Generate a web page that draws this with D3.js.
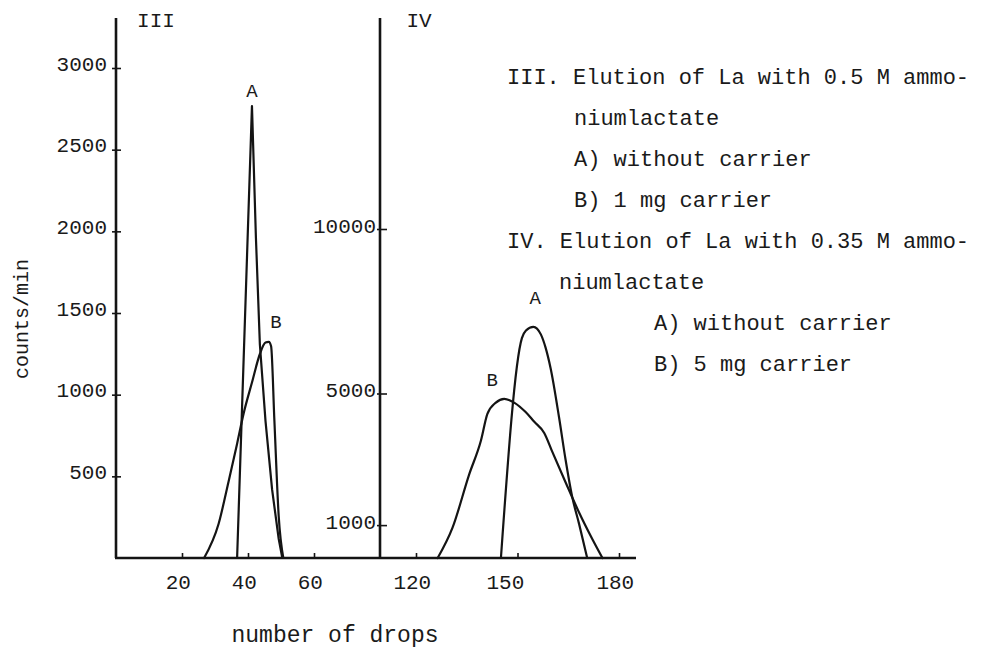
<!DOCTYPE html>
<html>
<head>
<meta charset="utf-8">
<script src="https://cdn.jsdelivr.net/npm/d3@7/dist/d3.min.js"></script>
<style>
  html, body { margin: 0; padding: 0; background: #fff; }
  svg text { font-family: "Liberation Mono", "Courier New", monospace; fill: #1a1a1a; }
</style>
</head>
<body>
<svg id="chart" width="983" height="649"></svg>
<script>
// ---------- data ----------
// Panel III (0.5 M ammoniumlactate): [number of drops, counts/min]
const panel3A = [[36.7,0],[41.2,2767],[42.4,1961],[43.6,1307],[45.3,840],[47.3,420],[49.3,117],[50.4,0]];
const panel3B = [[26.7,0],[31.1,210],[34.1,467],[36.7,700],[38.7,887],[41.2,1074],[43.6,1249],[45.3,1319],[46.3,1323],[47.0,1296],[48.0,840],[49.3,257],[50.7,0]];
// Panel IV (0.35 M ammoniumlactate)
const panel4A = [[145.1,0],[151.3,6682],[152.5,6912],[154.7,7028],[156.9,6797],[158.3,6394],[159.8,5760],[162.3,4263],[164.2,2995],[166.2,1843],[168.2,1037],[170.6,0]];
const panel4B = [[126.4,0],[130.8,922],[135.7,2535],[139.2,3571],[141.1,4378],[143.6,4724],[146.1,4839],[149.0,4724],[152.4,4435],[154.9,4147],[157.9,3802],[160.3,3226],[164.2,2304],[168.2,1382],[172.1,576],[175.1,0]];

const leftYTicks = [500, 1000, 1500, 2000, 2500, 3000];
const rightYTicks = [1000, 5000, 10000];
const leftXTicks = [20, 40, 60];
const rightXTicks = [120, 150, 180];

const legendLines = [
  "III. Elution of La with 0.5 M ammo-",
  "niumlactate",
  "A) without carrier",
  "B) 1 mg carrier",
  "IV. Elution of La with 0.35 M ammo-",
  "niumlactate",
  "A) without carrier",
  "B) 5 mg carrier"
];
const legendIndent = [0, 67, 67, 67, 0, 52, 147, 147];

// ---------- layout ----------
const svg = d3.select("#chart");
const ink = "#141414";
const baseY = 558;
const leftAxisX = 116, rightAxisX = 380, axisTop = 18, baseEnd = 636;

const xL = d3.scaleLinear().domain([0, 60]).range([leftAxisX, 314]);
const yL = d3.scaleLinear().domain([0, 3000]).range([baseY, 68]);
const xR = d3.scaleLinear().domain([120, 180]).range([416, 619]);
const yR = d3.scaleLinear().domain([0, 10000]).range([baseY, 229]);

// axis lines
svg.append("line").attr("x1", leftAxisX).attr("x2", leftAxisX).attr("y1", axisTop).attr("y2", baseY)
  .attr("stroke", ink).attr("stroke-width", 2.6);
svg.append("line").attr("x1", rightAxisX).attr("x2", rightAxisX).attr("y1", axisTop).attr("y2", baseY)
  .attr("stroke", ink).attr("stroke-width", 2.6);
svg.append("line").attr("x1", leftAxisX - 1).attr("x2", baseEnd).attr("y1", baseY).attr("y2", baseY)
  .attr("stroke", ink).attr("stroke-width", 2.6);

function styleAxis(g, fs) {
  g.select(".domain").remove();
  g.selectAll(".tick line").attr("stroke", ink).attr("stroke-width", 1.6);
  g.selectAll(".tick text").attr("font-size", fs).attr("fill", ink)
    .style("font-family", '"Liberation Mono", "Courier New", monospace');
}

// left y axis
svg.append("g").attr("transform", `translate(${leftAxisX},0)`)
  .call(d3.axisLeft(yL).tickValues(leftYTicks).tickSizeInner(4).tickSizeOuter(0).tickPadding(5).tickFormat(d3.format("d")))
  .call(g => styleAxis(g, 21))
  .call(g => g.selectAll(".tick text").attr("dy", "0.1em"))
  .call(g => g.selectAll(".tick line").attr("x2", 5).attr("x1", -4));

// right y axis
svg.append("g").attr("transform", `translate(${rightAxisX},0)`)
  .call(d3.axisLeft(yR).tickValues(rightYTicks).tickSizeInner(4).tickSizeOuter(0).tickPadding(0).tickFormat(d3.format("d")))
  .call(g => styleAxis(g, 21))
  .call(g => g.selectAll(".tick text").attr("dy", "0.15em"))
  .call(g => g.selectAll(".tick line").attr("x2", 7).attr("x1", -3));

// x axes (ticks pointing up)
svg.append("g").attr("transform", `translate(0,${baseY})`)
  .call(d3.axisBottom(xL).tickValues(leftXTicks).tickSizeInner(-5).tickSizeOuter(0).tickPadding(16))
  .call(g => styleAxis(g, 21))
  .call(g => g.selectAll(".tick text").attr("dx", "-0.2em"));
svg.append("g").attr("transform", `translate(0,${baseY})`)
  .call(d3.axisBottom(xR).tickValues(rightXTicks).tickSizeInner(-5).tickSizeOuter(0).tickPadding(16))
  .call(g => styleAxis(g, 21))
  .call(g => g.selectAll(".tick text").attr("dx", d => d === 150 ? "-0.6em" : "-0.2em"));

// curves
const lineL = d3.line().x(d => xL(d[0])).y(d => yL(d[1]));
const lineLSmooth = d3.line().x(d => xL(d[0])).y(d => yL(d[1])).curve(d3.curveMonotoneX);
const lineR = d3.line().x(d => xR(d[0])).y(d => yR(d[1])).curve(d3.curveMonotoneX);

function drawCurve(data, gen) {
  svg.append("path").datum(data).attr("d", gen)
    .attr("fill", "none").attr("stroke", ink).attr("stroke-width", 2.2)
    .attr("stroke-linejoin", "round").attr("stroke-linecap", "round");
}
drawCurve(panel3A, lineL);
drawCurve(panel3B, lineLSmooth);
drawCurve(panel4A, lineR);
drawCurve(panel4B, lineR);

// curve labels
function label(x, y, t, fs) {
  svg.append("text").attr("x", x).attr("y", y).attr("text-anchor", "middle")
    .attr("dominant-baseline", "central").attr("font-size", fs).text(t);
}
label(xL(41.2), 92, "A", 19);
label(xL(48.5), 323, "B", 19);
label(xR(155.2), 299, "A", 19);
label(xR(142.5), 381, "B", 19);

// panel labels
label(156, 21, "III", 21);
label(419, 21, "IV", 21);

// axis titles
svg.append("text").attr("transform", "translate(22,319) rotate(-90)")
  .attr("text-anchor", "middle").attr("dominant-baseline", "central")
  .attr("font-size", 20).text("counts/min");
svg.append("text").attr("x", 335).attr("y", 636)
  .attr("text-anchor", "middle").attr("dominant-baseline", "central")
  .attr("font-size", 23).text("number of drops");

// legend text
const legendY0 = 84, legendStep = 41;
legendLines.forEach((t, i) => {
  svg.append("text").attr("x", 507 + legendIndent[i]).attr("y", legendY0 + i * legendStep)
    .attr("font-size", 22).text(t);
});
</script>
</body>
</html>
